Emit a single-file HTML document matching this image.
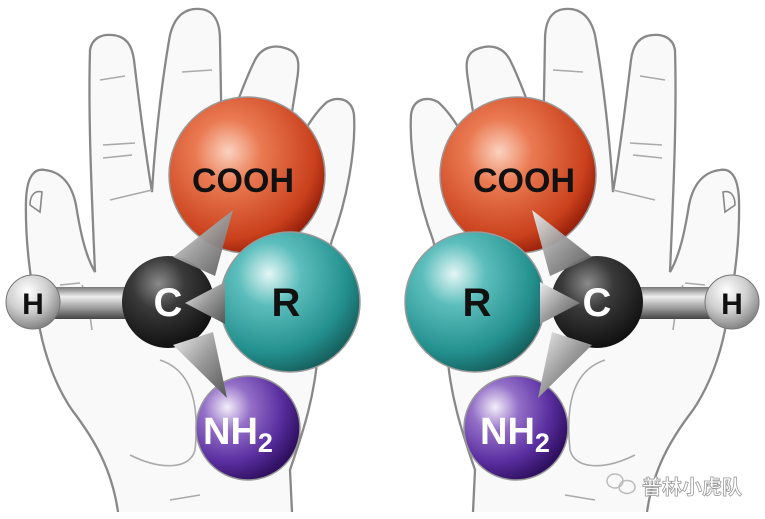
<!DOCTYPE html>
<html><head><meta charset="utf-8"><style>
html,body{margin:0;padding:0;background:#fff;width:765px;height:519px;overflow:hidden}
svg{display:block}
text{font-family:"Liberation Sans",Arial,sans-serif;font-weight:bold}
</style></head><body>
<svg width="765" height="519" viewBox="0 0 765 519" xmlns="http://www.w3.org/2000/svg">
<defs>
<radialGradient id="gO" cx="0.38" cy="0.35" r="0.7"><stop offset="0" stop-color="#fbd2bf"/><stop offset="0.3" stop-color="#ea7a52"/><stop offset="0.8" stop-color="#c9401c"/><stop offset="1" stop-color="#8f1a08"/></radialGradient>
<radialGradient id="gR" cx="0.35" cy="0.3" r="0.75"><stop offset="0" stop-color="#e4f6f6"/><stop offset="0.3" stop-color="#5cbebc"/><stop offset="0.75" stop-color="#23908e"/><stop offset="1" stop-color="#155c5a"/></radialGradient>
<radialGradient id="gC" cx="0.4" cy="0.3" r="0.7"><stop offset="0" stop-color="#8a8a8a"/><stop offset="0.4" stop-color="#3a3a3a"/><stop offset="1" stop-color="#111"/></radialGradient>
<radialGradient id="gH" cx="0.4" cy="0.3" r="0.75"><stop offset="0" stop-color="#ffffff"/><stop offset="0.5" stop-color="#cfcfcf"/><stop offset="1" stop-color="#7a7a7a"/></radialGradient>
<radialGradient id="gN" cx="0.3" cy="0.3" r="0.75"><stop offset="0" stop-color="#f4eefa"/><stop offset="0.3" stop-color="#9470c8"/><stop offset="0.7" stop-color="#5a2ea0"/><stop offset="1" stop-color="#2f1060"/></radialGradient>
<linearGradient id="gRod" x1="0" y1="0" x2="0" y2="1"><stop offset="0" stop-color="#777"/><stop offset="0.3" stop-color="#eee"/><stop offset="0.6" stop-color="#aaa"/><stop offset="1" stop-color="#444"/></linearGradient>
<linearGradient id="gCone" x1="0" y1="0" x2="1" y2="1"><stop offset="0" stop-color="#eee"/><stop offset="0.5" stop-color="#999"/><stop offset="1" stop-color="#555"/></linearGradient>
<g id="hand">
<path d="M118,512 C112,470 95,440 72,410 C55,385 45,355 40,330 C30,280 25,240 26,200 C27,175 35,168 45,170 C62,172 72,185 76,205 C80,230 85,255 95,272 C92,200 88,120 90,50 C92,38 102,34 112,35 C126,36 132,45 134,60 C140,110 145,150 152,192 C155,140 162,80 170,35 C175,15 186,8 200,9 C214,10 220,22 220,40 L222,150 C230,120 245,80 255,60 C261,48 273,44 285,48 C299,52 300,62 297,80 C291,120 285,150 285,170 C298,140 312,115 327,102 C337,96 352,98 354,115 C356,150 347,200 332,240 C324,270 320,310 318,350 C315,400 300,440 290,470 L292,512" fill="#f9f9f9" stroke="#888" stroke-width="2.3"/>
<g fill="none" stroke="#aaa" stroke-width="1.6">
<path d="M30,205 C30,195 35,190 42,192 L40,212 Z" stroke="#888"/>
<path d="M100,80 L125,76"/><path d="M103,145 L135,143"/><path d="M103,158 L132,155"/>
<path d="M182,72 L212,70"/><path d="M110,200 L152,190"/><path d="M60,285 L80,283"/>
<path d="M160,360 C190,370 200,400 195,450 C190,470 160,470 130,455"/>
<path d="M170,500 L200,495"/><path d="M82,285 C88,300 90,315 92,330"/>
</g>
</g>
</defs>
<use href="#hand"/>
<use href="#hand" transform="translate(765,0) scale(-1,1)"/>

<!-- LEFT molecule -->
<rect x="33" y="287" width="140" height="32" fill="url(#gRod)"/>
<circle cx="33" cy="302" r="27" fill="url(#gH)" stroke="#777" stroke-width="1"/>
<text x="33" y="314" font-size="30" text-anchor="middle" fill="#111">H</text>
<circle cx="247" cy="175" r="78" fill="url(#gO)" stroke="#999" stroke-width="1.5"/>
<text x="243" y="192" font-size="34" text-anchor="middle" fill="#111">COOH</text>
<circle cx="168" cy="302" r="46" fill="url(#gC)"/>
<polygon points="173,257 215,276 233,210" fill="url(#gCone)" opacity="0.95"/>
<circle cx="290" cy="302" r="70" fill="url(#gR)" stroke="#999" stroke-width="1.5"/>
<polygon points="185,303 225,282 225,324" fill="url(#gCone)"/>
<text x="168" y="316" font-size="40" text-anchor="middle" fill="#fff">C</text>
<text x="286" y="316" font-size="40" text-anchor="middle" fill="#111">R</text>
<circle cx="248" cy="428" r="52" fill="url(#gN)" stroke="#999" stroke-width="1.5"/>
<polygon points="173,345 213,332 227,398" fill="url(#gCone)"/>
<text x="238" y="444" font-size="38" text-anchor="middle" fill="#fff">NH<tspan font-size="27" dy="8">2</tspan></text>

<!-- RIGHT molecule -->
<rect x="592" y="287" width="140" height="32" fill="url(#gRod)"/>
<circle cx="732" cy="302" r="27" fill="url(#gH)" stroke="#777" stroke-width="1"/>
<text x="732" y="314" font-size="30" text-anchor="middle" fill="#111">H</text>
<circle cx="518" cy="175" r="78" fill="url(#gO)" stroke="#999" stroke-width="1.5"/>
<text x="524" y="192" font-size="34" text-anchor="middle" fill="#111">COOH</text>
<circle cx="475" cy="302" r="70" fill="url(#gR)" stroke="#999" stroke-width="1.5"/>
<text x="477" y="316" font-size="40" text-anchor="middle" fill="#111">R</text>
<circle cx="597" cy="302" r="46" fill="url(#gC)"/>
<polygon points="592,257 550,276 532,210" fill="url(#gCone)" opacity="0.95"/>
<polygon points="580,303 540,282 540,324" fill="url(#gCone)"/>
<text x="597" y="316" font-size="40" text-anchor="middle" fill="#fff">C</text>
<circle cx="516" cy="428" r="52" fill="url(#gN)" stroke="#999" stroke-width="1.5"/>
<polygon points="592,345 552,332 538,398" fill="url(#gCone)"/>
<text x="515" y="444" font-size="38" text-anchor="middle" fill="#fff">NH<tspan font-size="27" dy="8">2</tspan></text>

<!-- watermark -->
<g fill="none" stroke="#bbb" stroke-width="1.5">
<ellipse cx="615" cy="481" rx="8" ry="7"/><ellipse cx="627" cy="487" rx="8" ry="6.5"/>
</g>
<text x="642" y="494" font-size="20" font-weight="normal" fill="#fff" stroke="#999" stroke-width="0.8" style="font-family:'Liberation Sans','Noto Sans CJK SC',sans-serif">普林小虎队</text>
</svg>
</body></html>
